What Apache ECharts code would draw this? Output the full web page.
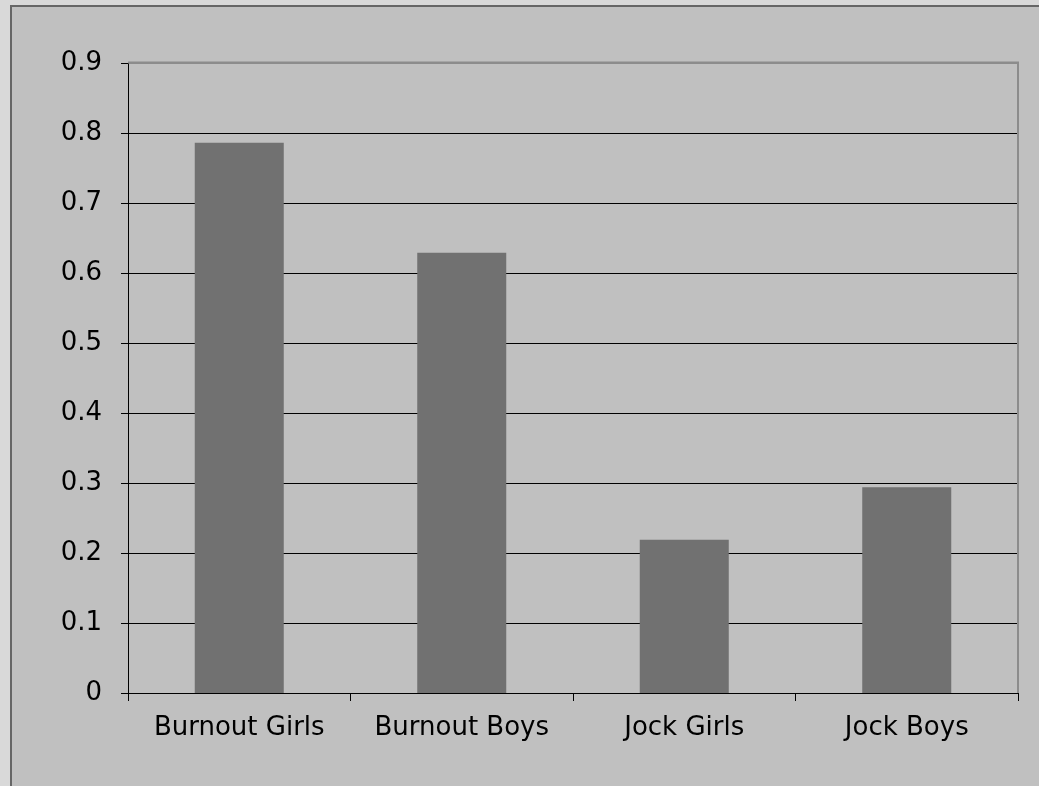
<!DOCTYPE html>
<html>
<head>
<meta charset="utf-8">
<script src="https://cdn.jsdelivr.net/npm/echarts@6/dist/echarts.min.js"></script>
<style>
html,body{margin:0;padding:0;background:#d9d9d9;}
#chart{width:1039px;height:786px;}
</style>
</head>
<body>
<div id="chart"></div>
<script>
const categories = ['Burnout Girls', 'Burnout Boys', 'Jock Girls', 'Jock Boys'];
const values = [0.786, 0.629, 0.219, 0.294];
const yTicks = [0, 0.1, 0.2, 0.3, 0.4, 0.5, 0.6, 0.7, 0.8, 0.9];

const chart = echarts.init(document.getElementById('chart'), null, {renderer: 'canvas'});
const font = '"DejaVu Sans", Verdana, sans-serif';
const splitColors = yTicks.map((t, i) => i === yTicks.length - 1 ? '#8c8c8c' : '#000000');
chart.setOption({
  backgroundColor: '#d9d9d9',
  animation: false,
  graphic: [{
    type: 'rect', z: -10, silent: true,
    shape: {x: 11, y: 6, width: 1200, height: 1000},
    style: {fill: '#c0c0c0', stroke: '#666666', lineWidth: 2}
  }, {
    type: 'line', z: 1, silent: true,
    shape: {x1: 1018, y1: 62, x2: 1018, y2: 693},
    style: {stroke: '#8c8c8c', lineWidth: 2}
  }, {
    type: 'line', z: 1, silent: true,
    shape: {x1: 128, y1: 62.5, x2: 1019, y2: 62.5},
    style: {stroke: '#8c8c8c', lineWidth: 2}
  }],
  grid: {left: 128, top: 63, right: 21, bottom: 93, show: false},
  xAxis: {
    type: 'category',
    data: categories,
    axisLine: {lineStyle: {color: '#000', width: 1}},
    axisTick: {show: true, length: 8, interval: 0, alignWithLabel: false, lineStyle: {color: '#000'}},
    axisLabel: {color: '#000', fontSize: 26, fontFamily: font, margin: 22, interval: 0, hideOverlap: false},
    splitLine: {show: false}
  },
  yAxis: {
    type: 'value',
    min: 0, max: 0.9, interval: 0.1,
    axisLine: {show: true, lineStyle: {color: '#000', width: 1}},
    axisTick: {show: true, length: 7, lineStyle: {color: '#000'}},
    axisLabel: {color: '#000', fontSize: 26, fontFamily: font, margin: 26,
      formatter: v => { const r = Math.round(v * 10) / 10; return r === 0 ? '0' : r.toFixed(1); }},
    splitLine: {show: true, lineStyle: {color: splitColors, width: 1}}
  },
  series: [{
    type: 'bar',
    data: values,
    barWidth: '40%',
    itemStyle: {color: '#717171'}
  }]
});
</script>
</body>
</html>
